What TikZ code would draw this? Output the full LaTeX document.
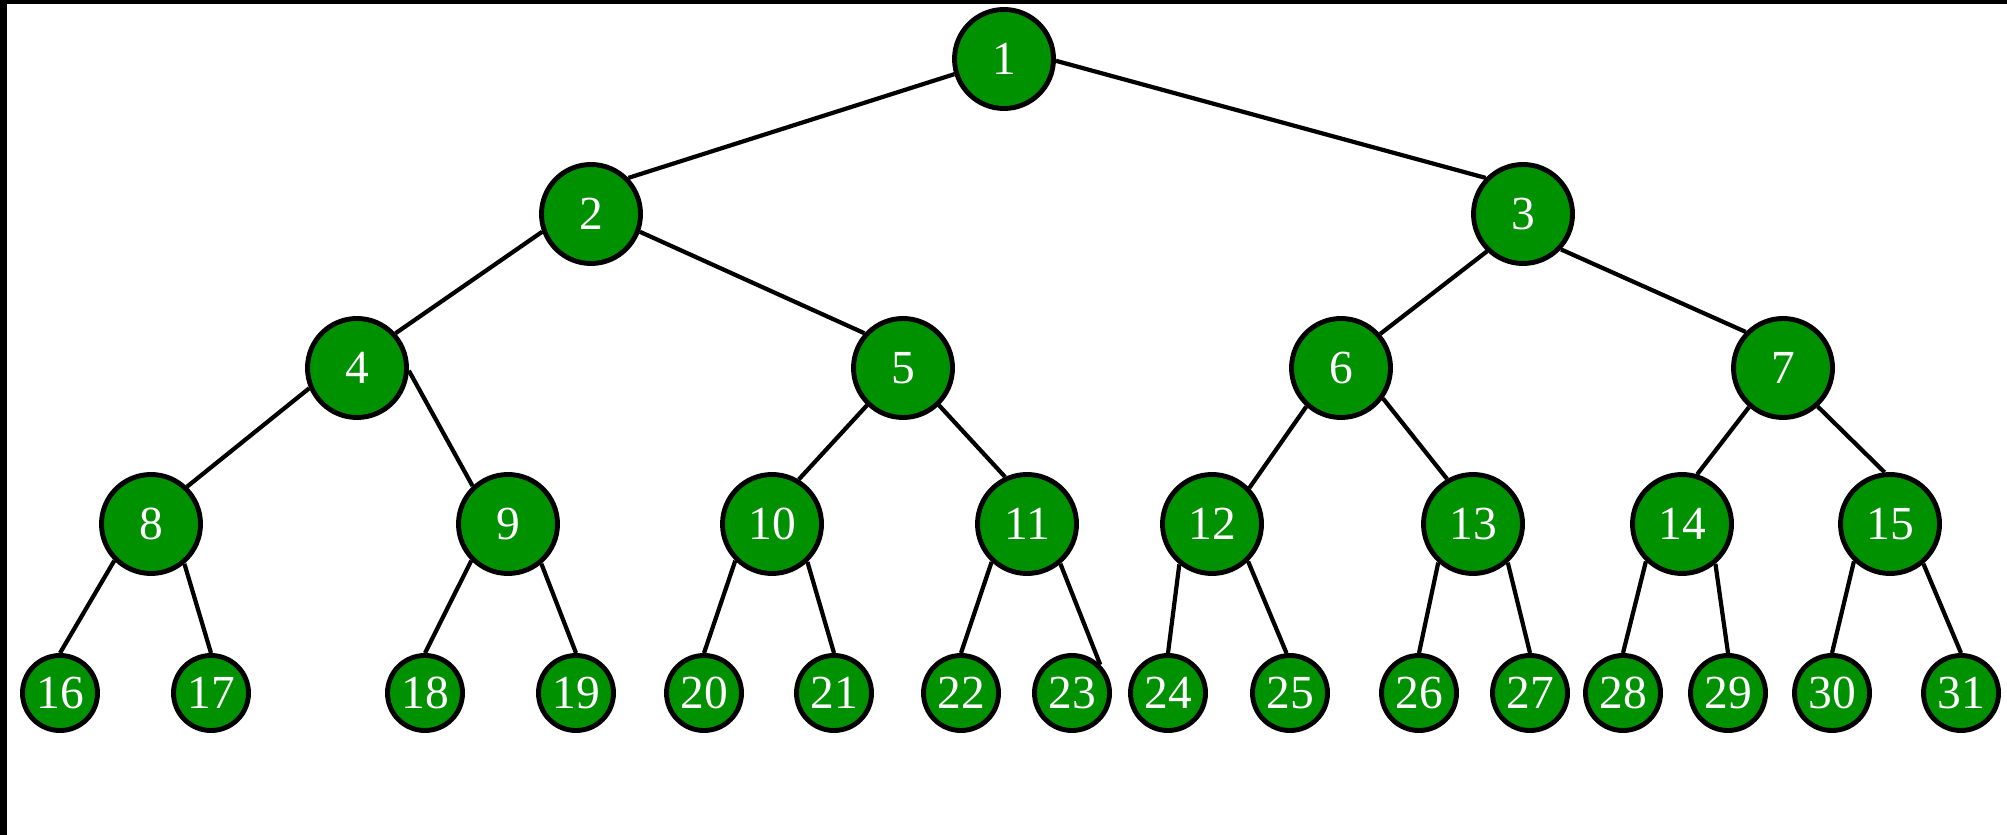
\documentclass[tikz,border=0pt]{standalone}
\usepackage{fontspec}
\setmainfont{Liberation Serif}
\definecolor{heapgreen}{RGB}{0,145,0}
\begin{document}
\begin{tikzpicture}[y=-1cm,
    heapnode/.style={circle, draw, line width=1.4pt, fill=heapgreen, text=white, font=\fontsize{13.5}{16}\selectfont, inner sep=0pt, minimum size=9.9mm},
    leafnode/.style={heapnode, minimum size=7.5mm}]
  \useasboundingbox (0,0) rectangle (20.07,8.35);
  \fill[black] (0,0) rectangle (20.07,0.04);
  \fill[black] (0,0) rectangle (0.07,8.35);
  \draw
    (10.04,0.59) node[heapnode] (1){1}
    (5.91,2.14) node[heapnode] (2){2}
    (15.23,2.14) node[heapnode] (3){3}
    (3.57,3.68) node[heapnode] (4){4}
    (9.03,3.68) node[heapnode] (5){5}
    (13.41,3.68) node[heapnode] (6){6}
    (17.83,3.68) node[heapnode] (7){7}
    (1.51,5.24) node[heapnode] (8){8}
    (5.08,5.24) node[heapnode] (9){9}
    (7.72,5.24) node[heapnode] (10){10}
    (10.27,5.24) node[heapnode] (11){11}
    (12.12,5.24) node[heapnode] (12){12}
    (14.73,5.24) node[heapnode] (13){13}
    (16.82,5.24) node[heapnode] (14){14}
    (18.90,5.24) node[heapnode] (15){15}
    (0.60,6.93) node[leafnode] (16){16}
    (2.11,6.93) node[leafnode] (17){17}
    (4.25,6.93) node[leafnode] (18){18}
    (5.76,6.93) node[leafnode] (19){19}
    (7.04,6.93) node[leafnode] (20){20}
    (8.34,6.93) node[leafnode] (21){21}
    (9.61,6.93) node[leafnode] (22){22}
    (10.72,6.93) node[leafnode] (23){23}
    (11.68,6.93) node[leafnode] (24){24}
    (12.90,6.93) node[leafnode] (25){25}
    (14.19,6.93) node[leafnode] (26){26}
    (15.30,6.93) node[leafnode] (27){27}
    (16.23,6.93) node[leafnode] (28){28}
    (17.28,6.93) node[leafnode] (29){29}
    (18.32,6.93) node[leafnode] (30){30}
    (19.61,6.93) node[leafnode] (31){31};
  \begin{scope}[-, line width=1.2pt]
    \draw (1.197) to (2.44);
    \draw (1.-2) to (3.136);
    \draw (2.200) to (4.42);
    \draw (2.-20) to (5.138);
    \draw (3.226) to (6.41);
    \draw (3.-43) to (7.136);
    \draw (4.203) to (8.46);
    \draw (4.-3) to (9.133);
    \draw (5.226) to (10.59);
    \draw (5.-46) to (11.115);
    \draw (6.228) to (12.44);
    \draw (6.-36) to (13.120);
    \draw (7.229) to (14.73);
    \draw (7.-48) to (15.96);
    \draw (8.225) to (16.90);
    \draw (8.-50) to (17.90);
    \draw (9.225) to (18.90);
    \draw (9.-50) to (19.90);
    \draw (10.225) to (20.90);
    \draw (10.-47) to (21.90);
    \draw (11.227) to (22.90);
    \draw (11.-50) to (23.45);
    \draw (12.231) to (24.90);
    \draw (12.-46) to (25.95);
    \draw (13.228) to (26.90);
    \draw (13.-48) to (27.90);
    \draw (14.226) to (28.90);
    \draw (14.-50) to (29.90);
    \draw (15.226) to (30.90);
    \draw (15.-50) to (31.90);
  \end{scope}
\end{tikzpicture}
\end{document}
